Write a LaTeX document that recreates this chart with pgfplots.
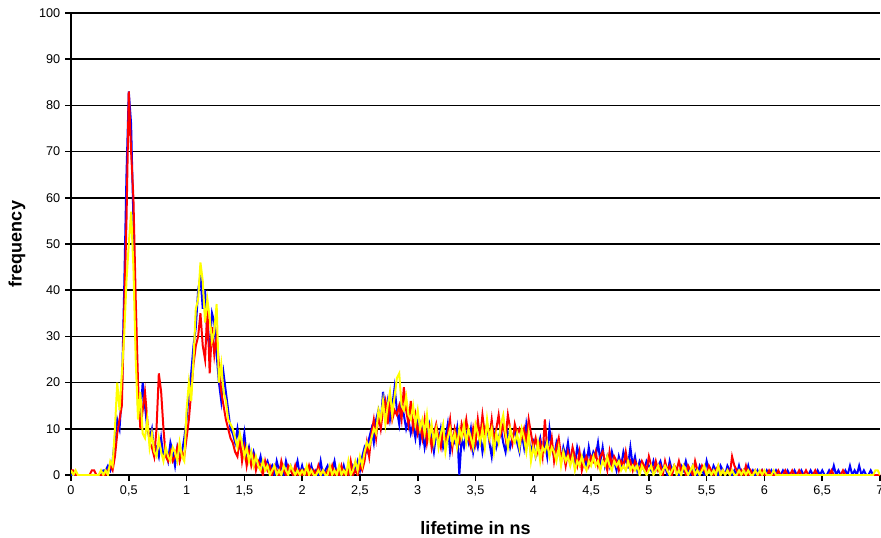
\documentclass[border=0pt]{standalone}
\usepackage{pgfplots}
\pgfplotsset{compat=1.18}
\usepackage{pgfplotstable}
\usepackage{fontspec}
\setmainfont{Liberation Sans}
\definecolor{cblue}{RGB}{0,0,255}
\definecolor{cred}{RGB}{255,0,0}
\definecolor{cyel}{RGB}{255,255,0}
\pgfplotstableread{
x b r y
0.00 0 1 1
0.02 0 1 0
0.04 0 0 1
0.06 0 0 0
0.08 0 0 0
0.10 0 0 0
0.12 0 0 0
0.14 0 0 0
0.16 0 0 0
0.18 0 1 0
0.20 0 1 0
0.22 0 0 0
0.24 0 0 0
0.26 0 0 1
0.28 1 0 0
0.30 1 0 1
0.32 2 1 0
0.34 1 2 3
0.36 3 1 2
0.38 8 4 10
0.40 12 9 20
0.42 10 12 14
0.44 18 15 22
0.46 40 35 30
0.48 65 55 42
0.50 83 83 50
0.52 76 70 57
0.54 55 60 45
0.56 30 38 25
0.58 15 20 12
0.60 12 10 18
0.62 20 14 9
0.64 15 18 8
0.66 10 12 12
0.68 8 7 6
0.70 10 6 9
0.72 5 4 5
0.74 6 10 4
0.76 4 22 8
0.78 8 18 5
0.80 4 10 3
0.82 5 4 6
0.84 3 3 4
0.86 7 5 3
0.88 5 3 6
0.90 2 4 5
0.92 6 6 3
0.94 4 3 7
0.96 5 5 4
0.98 8 4 3
1.00 12 8 14
1.02 18 12 20
1.04 22 18 16
1.06 28 24 25
1.08 32 28 36
1.10 40 30 38
1.12 43 35 46
1.14 36 28 42
1.16 40 25 33
1.18 30 36 38
1.20 28 22 34
1.22 35 32 29
1.24 33 26 31
1.26 26 30 37
1.28 20 24 20
1.30 16 18 24
1.32 22 15 18
1.34 18 12 16
1.36 14 10 12
1.38 10 8 11
1.40 9 7 10
1.42 7 5 8
1.44 10 4 6
1.46 6 8 9
1.48 5 3 7
1.50 9 6 4
1.52 4 2 6
1.54 6 5 3
1.56 3 2 5
1.58 5 4 2
1.60 3 1 4
1.62 2 3 2
1.64 4 2 1
1.66 1 0 3
1.68 2 3 1
1.70 3 1 2
1.72 1 2 0
1.74 2 0 1
1.76 0 2 2
1.78 3 1 0
1.80 1 0 1
1.82 2 3 0
1.84 0 1 2
1.86 3 0 1
1.88 1 2 0
1.90 2 1 2
1.92 0 0 1
1.94 1 2 0
1.96 3 0 1
1.98 0 1 0
2.00 2 0 1
2.02 0 1 0
2.04 1 0 2
2.06 0 2 0
2.08 2 0 1
2.10 0 1 0
2.12 1 0 0
2.14 0 2 1
2.16 3 0 0
2.18 0 1 1
2.20 1 0 0
2.22 2 1 0
2.24 0 0 2
2.26 1 2 0
2.28 3 0 1
2.30 0 1 0
2.32 1 0 2
2.34 0 2 0
2.36 2 0 1
2.38 0 1 0
2.40 1 0 3
2.42 0 3 0
2.44 2 0 1
2.46 1 1 3
2.48 3 0 1
2.50 1 2 4
2.52 4 1 2
2.54 6 3 5
2.56 5 7 7
2.58 8 4 6
2.60 10 9 8
2.62 7 12 10
2.64 12 8 9
2.66 14 13 14
2.68 11 10 12
2.70 18 14 16
2.72 13 16 11
2.74 16 11 15
2.76 12 17 18
2.78 15 12 13
2.80 19 14 17
2.82 14 13 21
2.84 11 15 22
2.86 16 12 15
2.88 13 19 14
2.90 10 14 17
2.92 12 11 13
2.94 9 16 12
2.96 11 10 15
2.98 8 13 11
3.00 12 9 14
3.02 7 11 10
3.04 10 8 12
3.06 6 12 9
3.08 9 7 13
3.10 11 10 8
3.12 8 6 11
3.14 5 9 7
3.16 9 11 10
3.18 7 8 6
3.20 10 6 9
3.22 6 10 11
3.24 8 7 5
3.26 11 9 8
3.28 5 12 10
3.30 8 6 7
3.32 7 10 9
3.34 10 8 6
3.36 0 7 10
3.38 8 11 8
3.40 6 9 11
3.42 9 12 7
3.44 7 8 10
3.46 10 6 8
3.48 5 10 6
3.50 8 7 11
3.52 6 12 9
3.54 9 8 7
3.56 5 13 10
3.58 8 9 6
3.60 11 11 12
3.62 7 8 8
3.64 4 12 10
3.66 9 7 5
3.68 6 10 9
3.70 8 13 7
3.72 10 9 11
3.74 7 11 13
3.76 5 8 9
3.78 9 13 6
3.80 6 10 10
3.82 8 7 8
3.84 10 11 7
3.86 7 9 9
3.88 5 10 6
3.90 9 8 10
3.92 6 10 8
3.94 11 7 5
3.96 8 12 9
3.98 5 9 3
4.00 7 6 6
4.02 4 8 4
4.04 6 5 7
4.06 8 7 3
4.08 5 4 6
4.10 7 12 5
4.12 4 6 7
4.14 10 5 4
4.16 6 8 6
4.18 4 3 5
4.20 7 6 3
4.22 5 8 6
4.24 3 4 2
4.26 6 5 5
4.28 4 2 3
4.30 7 5 4
4.32 3 3 2
4.34 5 6 4
4.36 2 4 1
4.38 6 2 3
4.40 4 5 2
4.42 3 1 4
4.44 5 3 2
4.46 2 4 1
4.48 6 2 3
4.50 3 4 2
4.52 5 3 4
4.54 4 5 2
4.56 7 2 3
4.58 3 4 1
4.60 6 5 3
4.62 2 3 2
4.64 4 1 4
4.66 2 5 2
4.68 5 2 1
4.70 3 4 3
4.72 1 3 2
4.74 4 1 3
4.76 2 3 1
4.78 5 2 2
4.80 3 5 1
4.82 2 2 3
4.84 6 3 1
4.86 2 1 2
4.88 4 3 1
4.90 1 2 2
4.92 3 1 0
4.94 2 3 2
4.96 1 2 1
4.98 3 1 0
5.00 2 4 1
5.02 1 2 2
5.04 3 1 0
5.06 1 3 1
5.08 2 1 2
5.10 3 2 0
5.12 1 0 1
5.14 2 3 2
5.16 0 1 1
5.18 3 2 0
5.20 1 0 1
5.22 2 2 2
5.24 1 1 0
5.26 0 3 1
5.28 2 1 0
5.30 1 2 2
5.32 3 0 1
5.34 1 2 0
5.36 0 1 1
5.38 2 0 2
5.40 1 3 0
5.42 0 1 1
5.44 2 0 0
5.46 1 2 1
5.48 0 1 2
5.50 3 0 0
5.52 1 2 1
5.54 0 1 0
5.56 2 0 1
5.58 1 1 0
5.60 0 2 2
5.62 2 0 0
5.64 1 1 1
5.66 0 0 0
5.68 2 1 1
5.70 1 0 0
5.72 0 4 1
5.74 1 2 0
5.76 0 1 0
5.78 2 0 1
5.80 0 1 0
5.82 1 0 1
5.84 0 2 0
5.86 2 0 1
5.88 0 1 0
5.90 1 0 0
5.92 0 1 1
5.94 1 0 0
5.96 0 0 1
5.98 1 1 0
6.00 0 0 1
6.02 1 0 0
6.04 0 1 0
6.06 1 0 0
6.08 0 0 1
6.10 1 0 0
6.12 0 1 0
6.14 0 0 0
6.16 1 0 0
6.18 0 1 0
6.20 1 0 0
6.22 0 0 0
6.24 0 1 0
6.26 1 0 0
6.28 0 0 0
6.30 0 1 0
6.32 1 0 0
6.34 0 0 0
6.36 0 1 0
6.38 0 0 0
6.40 1 0 0
6.42 0 0 0
6.44 0 1 0
6.46 1 0 0
6.48 0 0 0
6.50 1 0 0
6.52 0 0 0
6.54 0 0 0
6.56 1 0 0
6.58 0 1 0
6.60 2 0 0
6.62 0 0 0
6.64 1 0 0
6.66 0 0 0
6.68 0 1 0
6.70 1 0 0
6.72 0 0 0
6.74 2 0 0
6.76 0 0 0
6.78 1 0 0
6.80 0 0 0
6.82 2 0 0
6.84 0 0 0
6.86 1 0 0
6.88 0 0 0
6.90 0 0 0
6.92 1 0 0
6.94 0 0 0
6.96 0 0 1
6.98 0 0 1
7.00 0 0 0
}\datatable
\begin{document}
\begin{tikzpicture}
\begin{axis}[
  scale only axis,
  width=606.75pt, height=346.5pt,
  xmin=0, xmax=7, ymin=0, ymax=100,
  xtick={0,0.5,1,1.5,2,2.5,3,3.5,4,4.5,5,5.5,6,6.5,7},
  xticklabels={0,{0,5},1,{1,5},2,{2,5},3,{3,5},4,{4,5},5,{5,5},6,{6,5},7},
  ytick={0,10,...,100},
  /pgf/number format/assume math mode=true,
  ticklabel style={font=\fontsize{9.5}{11}\selectfont},
  axis x line*=bottom, axis y line*=left,
  axis line style={black, line width=1.4pt},
  tick style={black, line width=1.2pt},
  tick align=outside,
  major tick length=4.5pt,
  ymajorgrids, grid style={black, line width=1.3pt},
  xlabel={lifetime in ns},
  ylabel={frequency},
  xlabel style={font=\fontsize{13.5}{15}\selectfont\bfseries, at={([yshift=-39.75pt]axis description cs:0.5,0)}, anchor=center},
  ylabel style={font=\fontsize{13.5}{15}\selectfont\bfseries, at={([xshift=-40.5pt]axis description cs:0,0.5)}, anchor=center},
]
\addplot[cblue, line width=1.5pt] table[x=x, y=b] {\datatable};
\addplot[cred, line width=1.5pt] table[x=x, y=r] {\datatable};
\addplot[cyel, line width=1.5pt] table[x=x, y=y] {\datatable};
\coordinate (ll) at (rel axis cs:0,0);
\coordinate (ur) at (rel axis cs:1,1);
\end{axis}
\pgfresetboundingbox
\path ([xshift=-53.25pt,yshift=-46.5pt]ll) rectangle ([xshift=0.75pt,yshift=9.75pt]ur);
\end{tikzpicture}
\end{document}
